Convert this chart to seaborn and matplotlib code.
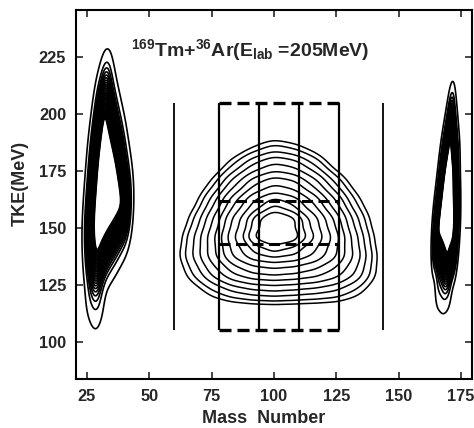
"""
TKE - mass contour map for 169Tm + 36Ar at E_lab = 205 MeV.

Steps:
    1. imports and chart data
    2. helper to fill a peak outline with grid points
    3. contours (quasi-elastic peaks + fission-like region) with seaborn kdeplot
    4. mass gates, labels, save
"""

# 1. imports and chart data
import matplotlib
matplotlib.use("Agg")
import matplotlib.pyplot as plt
import numpy as np
import seaborn as sns
from matplotlib.path import Path

# quasi-elastic peak near the projectile (mid-line of the dense contour band)
LEFT_PEAK_MASS = [32.9, 34.8, 38.6, 41.6, 41.4, 37.2, 33.2, 30.4, 28.6, 26.0, 25.2, 25.9, 27.5, 29.9]
LEFT_PEAK_TKE = [219, 207, 188, 166, 152, 143, 136, 130, 125, 133, 148, 162, 185, 206]
# low-yield tail below the projectile peak
LEFT_TAIL_MASS = [26.5, 31.0, 31.0, 29.5, 28.5, 25.5]
LEFT_TAIL_TKE = [130, 130, 118, 112, 112, 120]

# quasi-elastic peak near the target
RIGHT_PEAK_MASS = [171.3, 173.3, 173.7, 172.6, 169.0, 164.0, 164.4, 167.6]
RIGHT_PEAK_TKE = [207, 182, 152, 136, 127, 139, 152, 182]
RIGHT_TAIL_MASS = [165.0, 171.0, 170.5, 168.0, 165.5]
RIGHT_TAIL_TKE = [130, 130, 121, 118, 121]

# fission-like events: yield table, rows = TKE bins, columns = mass bins
FISSION_MASS = [60, 68, 76, 84, 92, 100, 108, 116, 124, 132, 140, 148]
FISSION_TKE = [114, 122, 130, 138, 146, 154, 162, 170, 178, 186, 194]
FISSION_YIELD = [
    [0, 0, 1, 1, 1, 1, 1, 1, 1, 1, 0, 0],
    [0, 2, 5, 8, 10, 11, 10, 9, 8, 5, 2, 0],
    [1, 6, 14, 24, 30, 32, 30, 27, 21, 13, 4, 0],
    [2, 9, 22, 40, 52, 56, 53, 45, 33, 17, 4, 0],
    [1, 8, 22, 46, 64, 70, 66, 54, 36, 14, 3, 0],
    [0, 5, 17, 40, 60, 70, 64, 50, 30, 10, 2, 0],
    [0, 2, 10, 28, 46, 56, 50, 36, 18, 5, 1, 0],
    [0, 1, 4, 14, 28, 36, 32, 20, 8, 2, 0, 0],
    [0, 0, 1, 5, 12, 18, 15, 8, 2, 0, 0, 0],
    [0, 0, 0, 1, 3, 6, 4, 2, 0, 0, 0, 0],
    [0, 0, 0, 0, 0, 0, 0, 0, 0, 0, 0, 0],
]
# contour levels (iso-proportions) of the fission-like region
FISSION_LEVELS = [0.035, 0.055, 0.09, 0.135, 0.2, 0.28, 0.375, 0.49, 0.61, 0.73, 0.82, 0.9]

# mass gates used for the analysis
GATE_EDGES = [78, 94, 110, 126]
GATE_TKE = [105, 205]
WINDOW_TKE = [143, 162]
OUTER_LIMITS = [60, 143.5]

X_TICKS = [25, 50, 75, 100, 125, 150, 175]
Y_TICKS = [100, 125, 150, 175, 200, 225]


# 2. helper to fill a peak outline with grid points
def fill_outline(masses, tkes, dm=0.25, dt=1.0):
    """Return regular grid points that lie inside the outline"""
    outline = Path(np.column_stack([masses, tkes]))
    m, t = np.meshgrid(np.arange(min(masses), max(masses) + dm, dm),
                       np.arange(min(tkes), max(tkes) + dt, dt))
    pts = np.column_stack([m.ravel(), t.ravel()])
    inside = outline.contains_points(pts)
    return pts[inside, 0], pts[inside, 1]


def peak_points(core_m, core_t, tail_m, tail_t, tail_weight=0.2):
    """Core + tail points with weights for one quasi-elastic peak"""
    cx, cy = fill_outline(core_m, core_t)
    tx, ty = fill_outline(tail_m, tail_t)
    x = np.concatenate([cx, tx])
    y = np.concatenate([cy, ty])
    w = np.concatenate([np.ones(len(cx)), np.full(len(tx), tail_weight)])
    return x, y, w


def main():
    sns.set_style("ticks")
    plt.rcParams["font.family"] = ["Liberation Sans", "DejaVu Sans"]
    plt.rcParams["mathtext.default"] = "regular"

    fig = plt.figure(figsize=(4.74, 4.28), dpi=100)
    ax = fig.add_axes([0.160, 0.1145, 0.836, 0.862])

    # 3. contours
    lx, ly, lw = peak_points(LEFT_PEAK_MASS, LEFT_PEAK_TKE, LEFT_TAIL_MASS, LEFT_TAIL_TKE)
    sns.kdeplot(x=lx, y=ly, weights=lw, ax=ax, levels=np.linspace(0.004, 0.62, 28),
                bw_adjust=1.2, color="black", linewidths=1.2)

    rx, ry, rw = peak_points(RIGHT_PEAK_MASS, RIGHT_PEAK_TKE, RIGHT_TAIL_MASS, RIGHT_TAIL_TKE)
    sns.kdeplot(x=rx, y=ry, weights=rw, ax=ax, levels=np.linspace(0.004, 0.62, 28),
                bw_adjust=1.0, color="black", linewidths=1.2)

    fm, ft = np.meshgrid(FISSION_MASS, FISSION_TKE)
    fw = np.asarray(FISSION_YIELD, dtype=float)
    sns.kdeplot(x=fm.ravel(), y=ft.ravel(), weights=fw.ravel(), ax=ax,
                levels=FISSION_LEVELS, bw_adjust=0.55,
                color="black", linewidths=1.1)

    # 4. mass gates
    ax.vlines(OUTER_LIMITS, GATE_TKE[0], GATE_TKE[1], color="black", lw=1.3)
    ax.vlines(GATE_EDGES, GATE_TKE[0], GATE_TKE[1], color="black", lw=1.6)
    ax.hlines(GATE_TKE, GATE_EDGES[0], GATE_EDGES[-1], color="black", lw=2.4,
              linestyles=[(0, (3.6, 1.8))])
    ax.hlines(WINDOW_TKE, GATE_EDGES[0], GATE_EDGES[-1], color="black", lw=2.2,
              linestyles=[(0, (3.6, 1.8))])

    ax.text(90.5, 228, "$^{169}$Tm+$^{36}$Ar(E$_{lab}$ =205MeV)", ha="center", va="center",
            fontsize=14, fontweight="bold")

    ax.set_xlim(20.6, 179.4)
    ax.set_ylim(83.6, 245.8)
    ax.set_xticks(X_TICKS)
    ax.set_yticks(Y_TICKS)
    ax.tick_params(direction="in", top=True, right=True, length=5, width=1.2,
                   labelsize=11.8, pad=7)
    for lab in ax.get_xticklabels() + ax.get_yticklabels():
        lab.set_fontweight("bold")
    for sp in ax.spines.values():
        sp.set_linewidth(1.5)
        sp.set_color("black")

    ax.set_xlabel("Mass  Number", fontsize=13, fontweight="bold")
    ax.set_ylabel("TKE(MeV)", fontsize=13, fontweight="bold")
    ax.xaxis.set_label_coords(0.475, -0.085)
    ax.yaxis.set_label_coords(-0.12, 0.53)

    fig.savefig("out.png", dpi=100)
    plt.close(fig)


if __name__ == "__main__":
    main()
